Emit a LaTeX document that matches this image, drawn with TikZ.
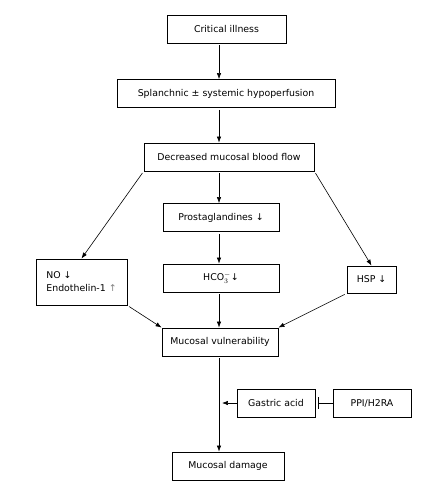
\documentclass[tikz,border=0pt]{standalone}
\usepackage{fontspec}
\setmainfont{DejaVu Sans}
\usetikzlibrary{arrows.meta,calc}
\begin{document}
\begin{tikzpicture}[x=1bp,y=-1bp,
  every node/.style={font=\fontsize{9.4}{11}\selectfont},
  box/.style={draw,line width=0.9pt,inner sep=0pt,minimum height=28bp},
  arr/.style={-{Latex[length=6pt,width=4.5pt]},line width=0.6pt,shorten <=2pt}]
  \useasboundingbox (0,0) rectangle (434,495);
  \coordinate (spine) at (219,0);
  % Main column
  \node[box,minimum width=119bp] (crit) at (226.5,29) {Critical illness};
  \node[box,minimum width=218bp] (splan) at (226,93.5) {Splanchnic ± systemic hypoperfusion};
  \node[box,minimum width=170bp] (decr) at (229,157) {Decreased mucosal blood flow};
  \node[box,minimum width=116bp] (prost) at (221,217.5) {Prostaglandines ↓};
  \node[box,minimum width=116bp] (hco) at (221,278) {HCO$_3^-$↓};
  \node[box,minimum width=116bp] (vuln) at (220,342) {Mucosal vulnerability};
  \node[box,minimum width=112bp] (damage) at (228,466) {Mucosal damage};
  % Side boxes
  \node[box,minimum width=91bp,minimum height=46bp,align=left] (no) at (81.5,282)
    {NO ↓\\[2pt]Endothelin-1 \textcolor{gray}{↑}};
  \node[box,minimum width=49bp,minimum height=27bp] (hsp) at (371.5,279.5) {HSP ↓};
  \node[box,minimum width=78bp] (gastric) at (276,403) {Gastric acid};
  \node[box,minimum width=78bp] (ppi) at (372,403) {PPI/H2RA};
  % Arrows
  \draw[arr] (crit.south -| spine) -- (splan.north -| spine);
  \draw[arr] (splan.south -| spine) -- (decr.north -| spine);
  \draw[arr] (decr.south -| spine) -- (prost.north -| spine);
  \draw[arr] (prost.south -| spine) -- (hco.north -| spine);
  \draw[arr] (hco.south -| spine) -- (vuln.north -| spine);
  \draw[arr] (vuln.south -| spine) -- (damage.north -| spine);
  \draw[arr] (decr.south west) -- (no.north);
  \draw[arr] (decr.south east) -- (hsp.north);
  \draw[arr] (no.south east) -- (vuln.north west);
  \draw[arr] (hsp.south west) -- (vuln.north east);
  \draw[arr,shorten <=0pt] (gastric.west) -- ($(gastric.west -| spine)+(3,0)$);
  % Inhibition
  \draw[-{Bar[width=12pt]},line width=0.6pt] (ppi.west) -- ($(gastric.east)+(3,0)$);
\end{tikzpicture}
\end{document}
